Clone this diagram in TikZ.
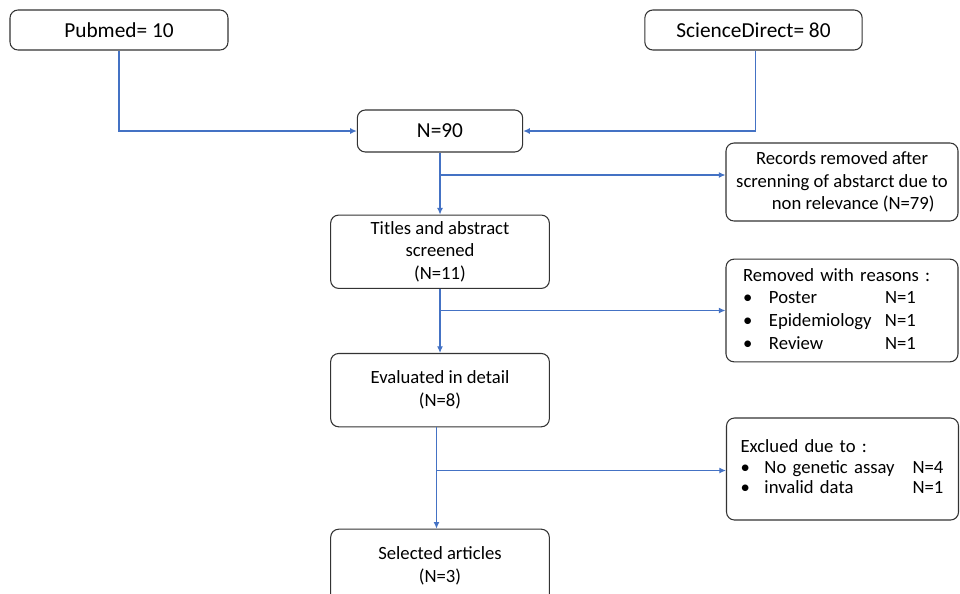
\documentclass[tikz,border=0pt]{standalone}
\usepackage{fontspec}
\setmainfont{Carlito}
\usetikzlibrary{arrows.meta,positioning,calc}
\definecolor{lnblue}{RGB}{68,114,196}
\tikzstyle{Abox}=[draw=black!80,line width=0.8pt,rounded corners=6pt,align=center,
                inner sep=0pt,font=\fontsize{14}{17}\selectfont]
\tikzstyle{Asrc}=[Abox,minimum width=163.5pt,minimum height=30pt,font=\fontsize{16}{19}\selectfont]
\tikzstyle{Astep}=[Abox,minimum width=164pt,minimum height=55pt,node distance=46.5pt]
\tikzstyle{Aout}=[Abox,minimum width=174pt]
\tikzstyle{Alist}=[Abox,text width=148.5pt,inner xsep=12.75pt,align=left]
\tikzstyle{hit}=[draw=lnblue,line width=0.85pt,-{Latex[length=5pt,width=4.5pt]}]

\begin{document}
\begin{tikzpicture}[x=0.75pt,y=-0.75pt]
  \useasboundingbox (0,0) rectangle (960,593);
  \clip (0,0) rectangle (960,593);
  % sources
  \node[Asrc] (pub) at (119,30) {Pubmed= 10};
  \node[Asrc,minimum width=163pt] (sd) at (753.5,30) {ScienceDirect= 80};
  \node[Asrc,minimum width=124pt,minimum height=31.5pt] (n90) at (440,131) {N=90};
  % main chain
  \node[Astep,below=46.5pt of n90] (tit) {Titles and abstract\\screened\\(N=11)};
  \node[Astep,below=48pt of tit] (eva) {Evaluated in detail\\(N=8)};
  \node[Astep,below=76pt of eva] (sel) {Selected articles\\(N=3)};
  % removed records
  \node[Aout,minimum height=58.5pt] (rec) at (842,182)
    {Records removed after\\screnning of abstarct due to\\\hspace*{1.2em}non relevance (N=79)};
  \node[Alist,minimum height=77pt] (rem) at (842,310.5) {%
    \begin{tabular}{@{}p{19.5pt}@{}p{87pt}@{}l@{}}
      \multicolumn{3}{@{}l@{}}{Removed with reasons :}\\
      \textbullet & Poster & N=1\\
      \textbullet & Epidemiology & N=1\\
      \textbullet & Review & N=1
    \end{tabular}};
  \node[Alist,minimum height=76.5pt,text width=153pt,inner xsep=10.5pt,
        font=\fontsize{14}{15.2}\selectfont] (exc) at (842.5,469) {%
    \begin{tabular}{@{}p{18pt}@{}p{111pt}@{}l@{}}
      \multicolumn{3}{@{}l@{}}{Exclued due to :}\\
      \textbullet & No genetic assay & N=4\\
      \textbullet & invalid data & N=1
    \end{tabular}};
  % branch points
  \coordinate (b1) at (440,175);
  \coordinate (b2) at (440,310.5);
  \coordinate (b3) at (436.5,470.5);
  % connectors
  \draw[hit] (pub.south) |- (n90.west);
  \draw[hit] ([xshift=1.8pt]sd.south) |- (n90.east);
  \draw[hit] (n90.south) -- (n90.south |- tit.north);
  \draw[hit] (b1) -- (b1 -| rec.west);
  \draw[hit] (b2 |- tit.south) -- (b2 |- eva.north);
  \draw[hit] (b2) -- (b2 -| rem.west);
  \draw[hit] (b3 |- eva.south) -- (b3 |- sel.north);
  \draw[hit] (b3) -- (b3 -| exc.west);
\end{tikzpicture}
\end{document}
